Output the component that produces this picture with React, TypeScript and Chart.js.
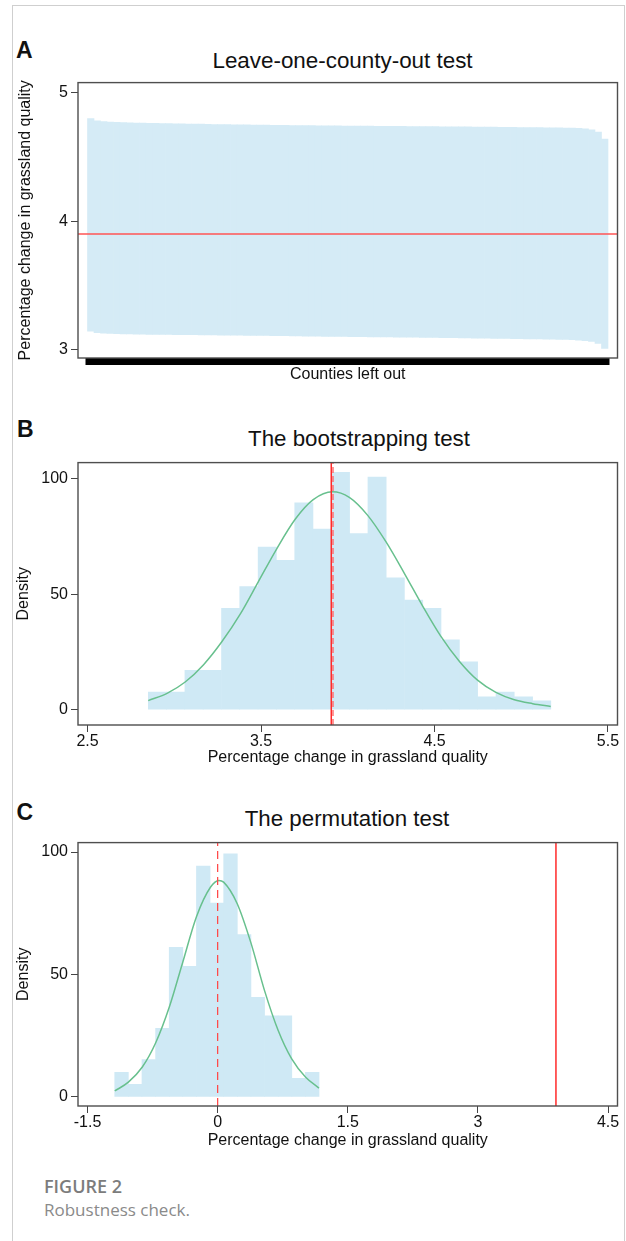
import React, { useEffect, useRef } from "react";
import { Chart, registerables } from "chart.js";

Chart.register(...registerables);

const SANS = "'Liberation Sans', Arial, Helvetica, sans-serif";
const CAPTION_FONT = "'Open Sans', 'Noto Sans', sans-serif";
Chart.defaults.font.family = SANS;

// ---------------- Panel A: leave-one-county-out test ----------------
// upper / lower bound of the estimate when each county is left out (sorted)
const leaveOneHigh = [
  4.800, 4.782, 4.776, 4.772, 4.770, 4.768, 4.766, 4.765, 4.764, 4.763,
  4.762, 4.761, 4.760, 4.759, 4.758, 4.757, 4.756, 4.756, 4.755, 4.754,
  4.753, 4.753, 4.752, 4.751, 4.751, 4.750, 4.749, 4.749, 4.748, 4.747,
  4.747, 4.746, 4.746, 4.745, 4.745, 4.744, 4.744, 4.743, 4.743, 4.742,
  4.742, 4.742, 4.741, 4.741, 4.740, 4.740, 4.740, 4.739, 4.739, 4.738,
  4.738, 4.738, 4.737, 4.737, 4.736, 4.736, 4.736, 4.735, 4.735, 4.734,
  4.734, 4.733, 4.733, 4.732, 4.732, 4.731, 4.730, 4.730, 4.729, 4.729,
  4.728, 4.727, 4.727, 4.726, 4.725, 4.723, 4.719, 4.712, 4.695, 4.640,
];
const leaveOneLow = [
  3.143, 3.132, 3.128, 3.126, 3.124, 3.123, 3.122, 3.121, 3.120, 3.119,
  3.119, 3.118, 3.118, 3.117, 3.117, 3.116, 3.116, 3.115, 3.115, 3.114,
  3.113, 3.113, 3.112, 3.112, 3.111, 3.111, 3.110, 3.110, 3.109, 3.108,
  3.108, 3.107, 3.107, 3.106, 3.106, 3.105, 3.104, 3.104, 3.103, 3.103,
  3.102, 3.102, 3.101, 3.100, 3.100, 3.099, 3.099, 3.098, 3.098, 3.097,
  3.097, 3.096, 3.095, 3.095, 3.094, 3.093, 3.093, 3.092, 3.091, 3.090,
  3.090, 3.089, 3.088, 3.087, 3.087, 3.086, 3.085, 3.084, 3.083, 3.083,
  3.082, 3.081, 3.080, 3.079, 3.077, 3.074, 3.070, 3.064, 3.048, 3.010,
];
const fullSampleEstimate = 3.9;
const aYTicks = [3, 4, 5];

// ---------------- Panel B: bootstrapping test ----------------
const bootBinCenters = [
  2.903, 3.008, 3.114, 3.219, 3.325, 3.430, 3.536, 3.641, 3.747, 3.852, 3.958,
  4.063, 4.169, 4.274, 4.380, 4.485, 4.591, 4.696, 4.802, 4.907, 5.013, 5.118,
];
const bootDensity = [
  7.6, 7.6, 17.1, 17.1, 43.9, 53.3, 70.4, 64.7, 89.6, 78.3, 102.8,
  76.3, 100.8, 57.1, 47.5, 43.9, 30.3, 20.7, 5.6, 7.6, 5.6, 3.8,
];
const bootCurveX = [
  2.85, 2.961, 3.063, 3.169, 3.273, 3.381, 3.485, 3.589, 3.697, 3.801, 3.912, 4.009,
  4.115, 4.219, 4.327, 4.431, 4.535, 4.644, 4.748, 4.854, 4.96, 5.066, 5.17,
];
const bootCurveY = [
  3.9, 7.2, 12.0, 19.5, 29.3, 41.5, 55.5, 69.5, 82.5, 91.0, 94.4, 92.0,
  84.2, 72.9, 59.0, 45.0, 32.0, 20.9, 12.8, 7.5, 4.3, 2.6, 1.4,
];
const bootEstimate = 3.905;
const bootMean = 3.915;
const bXTicks = [2.5, 3.5, 4.5, 5.5];
const densityTicks = [0, 50, 100];

// ---------------- Panel C: permutation test ----------------
const permBinCenters = [
  -1.1075, -0.9505, -0.7935, -0.6365, -0.4795, -0.3225, -0.1655, -0.0085,
  0.1485, 0.3055, 0.4625, 0.6195, 0.7765, 0.9335, 1.0905,
];
const permDensity = [
  10.0, 5.1, 15.2, 28.0, 61.1, 53.3, 94.3, 79.1, 99.3, 66.3, 40.7, 33.1, 33.1, 7.6, 10.0,
];
const permCurveX = [
  -1.186, -1.029, -0.868, -0.715, -0.554, -0.402, -0.245, -0.083, 0.014, 0.069,
  0.226, 0.383, 0.54, 0.697, 0.854, 1.015, 1.168,
];
const permCurveY = [
  2.4, 6.0, 12.2, 22.0, 37.0, 55.0, 73.5, 85.6, 88.4, 87.7, 78.9, 63.0, 43.5, 27.2, 15.5, 8.0, 3.6,
];
const permMean = 0.0;
const trueEstimate = 3.9;
const cXTicks = [-1.5, 0, 1.5, 3, 4.5];

const AXIS_TITLE = "Percentage change in grassland quality";

// ---------------- helpers ----------------
const plotBox = {
  id: "plotBox",
  afterDatasetsDraw(chart: any) {
    const { ctx, chartArea: a } = chart;
    ctx.save();
    ctx.strokeStyle = "#4e4e4e";
    ctx.lineWidth = 1.4;
    ctx.strokeRect(a.left, a.top, a.right - a.left, a.bottom - a.top);
    ctx.restore();
  },
};

function yAxis(min: number, max: number, ticks: number[], title: string, titlePad: number) {
  return {
    type: "linear",
    min,
    max,
    afterBuildTicks: (s: any) => {
      s.ticks = ticks.map((v) => ({ value: v }));
    },
    afterFit: (s: any) => {
      s.width = 78;
    },
    ticks: {
      font: { family: SANS, size: 16 },
      color: "#111",
      padding: 3,
      callback: (v: any) => String(v),
    },
    grid: { drawOnChartArea: false, tickLength: 7, tickColor: "#444", tickWidth: 1 },
    border: { display: false },
    title: {
      display: true,
      text: title,
      font: { family: SANS, size: 16 },
      color: "#111",
      padding: { top: titlePad, bottom: 0 },
    },
  };
}

function xAxis(
  min: number,
  max: number,
  ticks: number[],
  title: string,
  height: number,
  titlePadBottom: number,
  showLabels: boolean,
  tickWidth: number,
  tickColor: string
) {
  return {
    type: "linear",
    min,
    max,
    offset: false,
    afterBuildTicks: (s: any) => {
      s.ticks = ticks.map((v) => ({ value: v }));
    },
    afterFit: (s: any) => {
      s.height = height;
    },
    ticks: {
      display: showLabels,
      font: { family: SANS, size: 16 },
      color: "#111",
      padding: 0,
      maxRotation: 0,
      autoSkip: false,
      callback: (v: any) => String(v),
    },
    grid: { drawOnChartArea: false, tickLength: 7, tickColor, tickWidth, offset: false },
    border: { display: false },
    title: {
      display: true,
      text: title,
      font: { family: SANS, size: 16 },
      color: "#111",
      padding: { top: 0, bottom: titlePadBottom },
    },
  };
}

function baseOptions(padTop: number, scales: any) {
  return {
    responsive: false,
    animation: false,
    events: [],
    layout: { padding: { left: 0, right: 8.5, top: padTop, bottom: 0 } },
    plugins: { legend: { display: false }, tooltip: { enabled: false }, title: { display: false } },
    scales,
  };
}

function vLine(x: number, yMin: number, yMax: number, color: string, dash: number[], width: number, order: number) {
  return {
    type: "line",
    data: [
      { x, y: yMin },
      { x, y: yMax },
    ],
    borderColor: color,
    borderWidth: width,
    borderDash: dash,
    pointRadius: 0,
    fill: false,
    order,
  };
}

function curve(xs: number[], ys: number[]) {
  return {
    type: "line",
    data: xs.map((x, i) => ({ x, y: ys[i] })),
    borderColor: "#68c08e",
    borderWidth: 1.5,
    pointRadius: 0,
    fill: false,
    cubicInterpolationMode: "monotone",
    order: 2,
  };
}

function hist(centers: number[], dens: number[]) {
  return {
    type: "bar",
    data: centers.map((x, i) => ({ x, y: dens[i] })),
    backgroundColor: "#cfe9f5",
    borderWidth: 0,
    barPercentage: 1,
    categoryPercentage: 1,
    order: 3,
  };
}

// ---------------- chart configs ----------------
const A_X_MIN = -0.96;
const A_X_MAX = leaveOneHigh.length + 1.96;

function configA() {
  const countyIdx = leaveOneHigh.map((_, i) => i + 1);
  return {
    type: "bar",
    data: {
      datasets: [
        {
          type: "line",
          data: [
            { x: A_X_MIN, y: fullSampleEstimate },
            { x: A_X_MAX, y: fullSampleEstimate },
          ],
          borderColor: "#ff5555",
          borderWidth: 1.5,
          pointRadius: 0,
          fill: false,
          order: 1,
        },
        {
          type: "bar",
          data: countyIdx.map((x, i) => ({ x, y: [leaveOneLow[i], leaveOneHigh[i]] })),
          backgroundColor: "#d5ebf6",
          borderWidth: 0,
          barPercentage: 1,
          categoryPercentage: 1,
          order: 3,
        },
      ],
    },
    options: baseOptions(10, {
      x: xAxis(A_X_MIN, A_X_MAX, countyIdx, "Counties left out", 32, 6, false, 10, "#000"),
      y: yAxis(2.935, 5.08, aYTicks, AXIS_TITLE, 16),
    }),
    plugins: [plotBox],
  };
}

function configB() {
  const yMin = -6.64;
  const yMax = 107.06;
  return {
    type: "bar",
    data: {
      datasets: [
        vLine(bootEstimate, yMin, yMax, "#ff2a2a", [], 1.5, 0),
        vLine(bootMean, yMin, yMax, "#ff6b6b", [6, 3], 1.4, 1),
        curve(bootCurveX, bootCurveY),
        hist(bootBinCenters, bootDensity),
      ],
    },
    options: baseOptions(6, {
      x: xAxis(2.4452, 5.5548, bXTicks, AXIS_TITLE, 50, 8.2, true, 1, "#444"),
      y: yAxis(yMin, yMax, densityTicks, "Density", 13.5),
    }),
    plugins: [plotBox],
  };
}

function configC() {
  const yMin = -3.73;
  const yMax = 103.85;
  return {
    type: "bar",
    data: {
      datasets: [
        vLine(trueEstimate, yMin, yMax, "#ff2a2a", [], 1.5, 0),
        vLine(permMean, yMin, yMax, "#ff4a4a", [8, 5], 1.3, 1),
        curve(permCurveX, permCurveY),
        hist(permBinCenters, permDensity),
      ],
    },
    options: baseOptions(7.7, {
      x: xAxis(-1.6095, 4.6095, cXTicks, AXIS_TITLE, 54, 9.9, true, 1, "#444"),
      y: yAxis(yMin, yMax, densityTicks, "Density", 13.5),
    }),
    plugins: [plotBox],
  };
}

function ChartCanvas({ top, height, build }: { top: number; height: number; build: () => any }) {
  const ref = useRef<HTMLCanvasElement | null>(null);
  useEffect(() => {
    if (!ref.current) return;
    const chart = new Chart(ref.current, build());
    return () => chart.destroy();
  }, []);
  return (
    <canvas
      ref={ref}
      width={626}
      height={height}
      style={{ position: "absolute", left: 0, top, width: 626, height }}
    />
  );
}

function Txt(props: {
  x: number;
  baseline: number;
  size: number;
  family: string;
  k: number;
  weight?: number;
  color?: string;
  center?: boolean;
  children: React.ReactNode;
}) {
  const { x, baseline, size, family, k, weight = 400, color = "#111", center = false, children } = props;
  return (
    <div
      style={{
        position: "absolute",
        left: x,
        top: baseline - k * size,
        fontSize: size,
        lineHeight: `${size}px`,
        fontFamily: family,
        fontWeight: weight,
        color,
        whiteSpace: "nowrap",
        transform: center ? "translateX(-50%)" : undefined,
      }}
    >
      {children}
    </div>
  );
}

const KS = 0.8465; // Liberation Sans baseline factor
const KO = 0.888; // Open Sans baseline factor

export default function App() {
  return (
    <div
      style={{
        position: "absolute",
        left: 0,
        top: 0,
        width: 626,
        height: 1241,
        overflow: "hidden",
        background: "#fff",
      }}
    >
      <div
        style={{
          position: "absolute",
          left: 12,
          top: 5,
          width: 613,
          height: 1320,
          boxSizing: "border-box",
          border: "1px solid #cfcfcf",
        }}
      />
      <Txt x={16} baseline={58.3} size={23} family={SANS} k={KS} weight={700}>A</Txt>
      <Txt x={342.5} baseline={69.3} size={22.4} family={SANS} k={KS} center>Leave-one-county-out test</Txt>
      <ChartCanvas top={70} height={320} build={configA} />

      <Txt x={17} baseline={437.3} size={23} family={SANS} k={KS} weight={700}>B</Txt>
      <Txt x={359} baseline={446.7} size={22.3} family={SANS} k={KS} center>The bootstrapping test</Txt>
      <ChartCanvas top={450} height={325} build={configB} />

      <Txt x={16.5} baseline={820.7} size={23} family={SANS} k={KS} weight={700}>C</Txt>
      <Txt x={347} baseline={827.3} size={22.3} family={SANS} k={KS} center>The permutation test</Txt>
      <ChartCanvas top={830} height={330} build={configC} />

      <Txt x={44} baseline={1192.7} size={18} family={CAPTION_FONT} k={KO} weight={600} color="#7c7c7c">FIGURE 2</Txt>
      <Txt x={44} baseline={1215.7} size={17} family={CAPTION_FONT} k={KO} color="#8a8a8a">Robustness check.</Txt>
    </div>
  );
}
